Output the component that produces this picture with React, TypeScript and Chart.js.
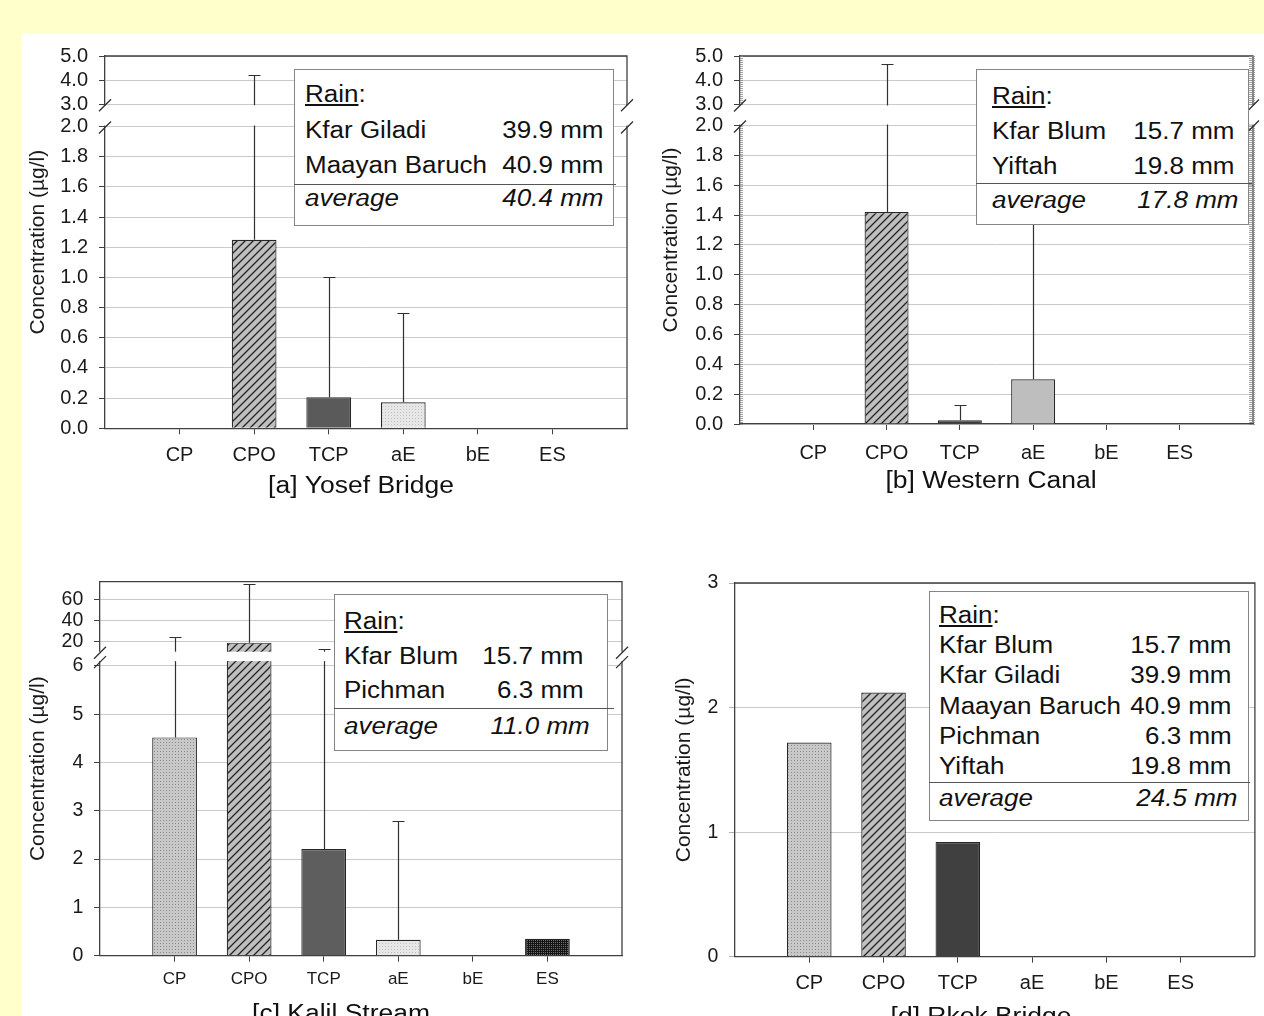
import React, { useEffect, useRef } from 'react';
import { Chart, registerables, LinearScale } from 'chart.js';

const FONT = "'Liberation Sans', Arial, Helvetica, sans-serif";

// ---------------- data ----------------
const CATEGORIES = ['CP', 'CPO', 'TCP', 'aE', 'bE', 'ES'];
const Y_TITLE = 'Concentration (µg/l)';
const TITLES = ['[a] Yosef Bridge', '[b] Western Canal', '[c] Kalil Stream', '[d] Rkok Bridge'];

const A_VALUES = [null, 1.25, 0.205, 0.172, null, null];
const A_ERRORS = [null, 2.96, 0.795, 0.592, null, null];
const A_TICKS = [0, 0.2, 0.4, 0.6, 0.8, 1.0, 1.2, 1.4, 1.6, 1.8, 2.0, 3.0, 4.0, 5.0];

const B_VALUES = [null, 1.42, 0.025, 0.3, null, null];
const B_ERRORS = [null, 3.25, 0.105, 1.2, null, null];
const B_TICKS = [0, 0.2, 0.4, 0.6, 0.8, 1.0, 1.2, 1.4, 1.6, 1.8, 2.0, 3.0, 4.0, 5.0];

const C_VALUES = [4.52, 19.0, 2.21, 0.33, null, 0.35];
const C_ERRORS = [20.3, 55.5, 10.5, 2.46, null, null];
const C_TICKS = [0, 1, 2, 3, 4, 5, 6, 20, 40, 60];

const D_VALUES = [1.72, 2.12, 0.92, null, null, null];
const D_TICKS = [0, 1, 2, 3];

const A_RAIN_STATIONS = ['Kfar Giladi', 'Maayan Baruch'];
const A_RAIN_MM = [39.9, 40.9];
const A_RAIN_AVG = 40.4;
const B_RAIN_STATIONS = ['Kfar Blum', 'Yiftah'];
const B_RAIN_MM = [15.7, 19.8];
const B_RAIN_AVG = 17.8;
const C_RAIN_STATIONS = ['Kfar Blum', 'Pichman'];
const C_RAIN_MM = [15.7, 6.3];
const C_RAIN_AVG = 11.0;
const D_RAIN_STATIONS = ['Kfar Blum', 'Kfar Giladi', 'Maayan Baruch', 'Pichman', 'Yiftah'];
const D_RAIN_MM = [15.7, 39.9, 40.9, 6.3, 19.8];
const D_RAIN_AVG = 24.5;

// ---------------- broken axis scale ----------------
function interp(x: number, xs: number[], ys: number[]) {
  const n = xs.length;
  let i = 0;
  if (x <= xs[0]) i = 0;
  else if (x >= xs[n - 1]) i = n - 2;
  else while (i < n - 2 && x > xs[i + 1]) i++;
  const t = (x - xs[i]) / (xs[i + 1] - xs[i]);
  return ys[i] + t * (ys[i + 1] - ys[i]);
}

class BrokenLinearScale extends LinearScale {
  static id = 'brokenLinear';
  static defaults = {};
  _kv: number[] = [];
  _kd: number[] = [];
  _initKnots() {
    const k: any = (this.options as any).knots || [0, 0, 1, 1];
    const kv: number[] = [];
    const kd: number[] = [];
    for (let i = 0; i + 1 < k.length; i += 2) {
      kv.push(+k[i]);
      kd.push(+k[i + 1]);
    }
    this._kv = kv;
    this._kd = kd;
  }
  configure() {
    super.configure();
    this._initKnots();
  }
  getPixelForValue(value: any) {
    if (value === null || value === undefined || Number.isNaN(+value)) return NaN;
    if (!this._kv || this._kv.length < 2) this._initKnots();
    return this.getPixelForDecimal(interp(+value, this._kv, this._kd));
  }
  getValueForPixel(pixel: number) {
    if (!this._kv || this._kv.length < 2) this._initKnots();
    return interp(this.getDecimalForPixel(pixel), this._kd, this._kv);
  }
}

Chart.register(...registerables, BrokenLinearScale as any);

// ---------------- fills ----------------
function tile(w: number, h: number, draw: (c: CanvasRenderingContext2D) => void) {
  const c = document.createElement('canvas');
  c.width = w;
  c.height = h;
  const x = c.getContext('2d') as CanvasRenderingContext2D;
  draw(x);
  return x.createPattern(c, 'repeat');
}
function makeFill(kind: string): any {
  if (kind === 'hatch')
    return tile(8, 8, (x) => {
      x.fillStyle = '#bfbfbf';
      x.fillRect(0, 0, 8, 8);
      x.strokeStyle = '#262626';
      x.lineWidth = 1.35;
      x.beginPath();
      x.moveTo(0, 8); x.lineTo(8, 0);
      x.moveTo(-1, 1); x.lineTo(1, -1);
      x.moveTo(7, 9); x.lineTo(9, 7);
      x.stroke();
    });
  if (kind === 'dots')
    return tile(3, 3, (x) => {
      x.fillStyle = '#c8c8c8';
      x.fillRect(0, 0, 3, 3);
      x.fillStyle = '#8c8c8c';
      x.fillRect(1, 1, 1, 1);
    });
  if (kind === 'lightdots')
    return tile(3, 3, (x) => {
      x.fillStyle = '#e6e6e6';
      x.fillRect(0, 0, 3, 3);
      x.fillStyle = '#c2c2c2';
      x.fillRect(1, 1, 1, 1);
    });
  if (kind === 'checker')
    return tile(2, 2, (x) => {
      x.fillStyle = '#151515';
      x.fillRect(0, 0, 2, 2);
      x.fillStyle = '#6e6e6e';
      x.fillRect(0, 0, 1, 1);
    });
  if (kind === 'none') return 'rgba(0,0,0,0)';
  return kind;
}

// ---------------- panel configs ----------------
const PANELS = [
  {
    key: 'a', canvas: { left: 21, top: 33, width: 619, height: 490 },
    area: { left: 105, top: 55, right: 627, bottom: 428.3 },
    yType: 'brokenLinear', knots: [0, 0, 2, 0.8106, 3, 0.8706, 5, 1], yMax: 5,
    band: { low: 2, high: 3, inset: 1 }, ticks: A_TICKS, decimals: 1,
    values: A_VALUES, errors: A_ERRORS,
    fills: ['none', 'hatch', '#5a5a5a', 'lightdots', 'none', 'none'],
    yTitleX: 37.8, xTickSize: 20, xTickCenter: 455, yTickPad: 11, yTickSize: 20, yTickColor: '#404040',
    title: TITLES[0], captionX: 361, captionBase: 493.3, ruler: false,
  },
  {
    key: 'b', canvas: { left: 640, top: 33, width: 624, height: 490 },
    area: { left: 740, top: 50, right: 1260, bottom: 424 },
    yType: 'brokenLinear', knots: [0, 0, 2, 0.811, 3, 0.8682, 5, 1], yMax: 5,
    band: { low: 2, high: 3, inset: 1 }, ticks: B_TICKS, decimals: 1,
    values: B_VALUES, errors: B_ERRORS,
    fills: ['none', 'hatch', '#3c3c3c', '#bebebe', 'none', 'none'],
    yTitleX: 671, xTickSize: 20, xTickCenter: 453, yTickPad: 11, yTickSize: 20, yTickColor: '#404040',
    title: TITLES[1], captionX: 991, captionBase: 488.3, ruler: true,
  },
  {
    key: 'c', canvas: { left: 21, top: 540, width: 619, height: 476 },
    area: { left: 100, top: 581.7, right: 622, bottom: 955.7 },
    yType: 'brokenLinear', knots: [0, 0, 6.1, 0.7877, 10.4, 0.8128, 77, 1], yMax: 77,
    band: { low: 6.1, high: 10.4, inset: 0 }, ticks: C_TICKS, decimals: 0,
    values: C_VALUES, errors: C_ERRORS,
    fills: ['dots', 'hatch', '#5e5e5e', 'lightdots', 'none', 'checker'],
    yTitleX: 37.8, xTickSize: 17, xTickCenter: 979, yTickPad: 10.7, yTickSize: 19.5, yTickColor: '#404040',
    title: TITLES[2], captionX: 341, captionBase: 1021, ruler: false,
  },
  {
    key: 'd', canvas: { left: 640, top: 540, width: 624, height: 476 },
    area: { left: 735, top: 583, right: 1256, bottom: 956.7 },
    yType: 'linear', knots: null, yMax: 3,
    band: null, ticks: D_TICKS, decimals: 0,
    values: D_VALUES, errors: null,
    fills: ['dots', 'hatch', '#404040', 'none', 'none', 'none'],
    yTitleX: 684, xTickSize: 20, xTickCenter: 983.8, yTickPad: 10.7, yTickSize: 19.5, yTickColor: '#b0b0b0',
    title: TITLES[3], captionX: 981, captionBase: 1024, ruler: false,
  },
];

const LEGENDS = [
  {
    key: 'a', stations: A_RAIN_STATIONS, mm: A_RAIN_MM, avg: A_RAIN_AVG,
    left: 294, top: 69.3, right: 614, bottom: 226, textLeft: 305,
    rainBase: 102.7, rowBase: 138.3, rowStep: 35, sepY: 184.3, sepRight: 616,
    avgBase: 206.7, valRight: 603, avgRight: 603,
  },
  {
    key: 'b', stations: B_RAIN_STATIONS, mm: B_RAIN_MM, avg: B_RAIN_AVG,
    left: 976, top: 69.3, right: 1249.3, bottom: 225, textLeft: 992.3,
    rainBase: 104.3, rowBase: 139, rowStep: 35.3, sepY: 183.3, sepRight: 1251.7,
    avgBase: 208.3, valRight: 1234, avgRight: 1238,
  },
  {
    key: 'c', stations: C_RAIN_STATIONS, mm: C_RAIN_MM, avg: C_RAIN_AVG,
    left: 334, top: 594.3, right: 608.3, bottom: 750.7, textLeft: 344,
    rainBase: 629, rowBase: 664, rowStep: 34.3, sepY: 708, sepRight: 614,
    avgBase: 734, valRight: 583.5, avgRight: 589.5,
  },
  {
    key: 'd', stations: D_RAIN_STATIONS, mm: D_RAIN_MM, avg: D_RAIN_AVG,
    left: 929.3, top: 590.7, right: 1249.3, bottom: 820.7, textLeft: 939.3,
    rainBase: 623.3, rowBase: 653.3, rowStep: 30.4, sepY: 782.3, sepRight: 1250,
    avgBase: 806, valRight: 1231.7, avgRight: 1237.3,
  },
];

// ---------------- chart panel ----------------
const Y_TITLE_SIZE = 21;
function Panel({ cfg }: { cfg: any }) {
  const ref = useRef<HTMLCanvasElement | null>(null);
  useEffect(() => {
    const canvas = ref.current;
    if (!canvas) return;
    const cv = cfg.canvas;
    const area = cfg.area;
    const padTop = area.top - cv.top;
    const padRight = cv.left + cv.width - area.right;
    const yWidth = area.left - cv.left;
    const xHeight = cv.top + cv.height - area.bottom;
    const xLine = cfg.xTickSize * 1.2;
    const xPad = cfg.xTickCenter - area.bottom - 6 - xLine / 2;
    const yTitlePad = cfg.yTitleX - cv.left - (Y_TITLE_SIZE * 1.2) / 2;
    const fills = cfg.fills.map(makeFill);
    const labels = ['', ...CATEGORIES, ''];
    const n = labels.length;

    const errorPlugin = {
      id: 'errbars' + cfg.key,
      afterDatasetsDraw(chart: any) {
        if (!cfg.errors) return;
        const meta = chart.getDatasetMeta(0);
        const y = chart.scales.y;
        const ctx = chart.ctx;
        ctx.save();
        ctx.strokeStyle = '#303030';
        ctx.lineWidth = 1.2;
        cfg.errors.forEach((e: any, i: number) => {
          const v = cfg.values[i];
          if (v == null || e == null) return;
          const bar = meta.data[i + 1];
          const x = Math.round(bar.x) + 0.5;
          const y0 = y.getPixelForValue(v);
          const y1 = Math.round(y.getPixelForValue(v + e)) + 0.5;
          ctx.beginPath();
          ctx.moveTo(x, y0);
          ctx.lineTo(x, y1);
          ctx.moveTo(x - 6, y1);
          ctx.lineTo(x + 6, y1);
          ctx.stroke();
        });
        ctx.restore();
      },
    };

    const framePlugin = {
      id: 'frame' + cfg.key,
      afterDraw(chart: any) {
        const ctx = chart.ctx;
        const ca = chart.chartArea;
        const y = chart.scales.y;
        ctx.save();
        ctx.strokeStyle = '#404040';
        ctx.lineWidth = 1.3;
        ctx.beginPath();
        ctx.moveTo(ca.left, ca.top);
        ctx.lineTo(ca.right, ca.top);
        ctx.lineTo(ca.right, ca.bottom);
        ctx.stroke();
        if (cfg.ruler) {
          ctx.strokeStyle = '#8a8a8a';
          ctx.lineWidth = 0.8;
          ctx.beginPath();
          for (let yy = ca.top; yy <= ca.bottom; yy += 2) {
            ctx.moveTo(ca.left, yy + 0.5);
            ctx.lineTo(ca.left + 3, yy + 0.5);
            ctx.moveTo(ca.right - 4, yy + 0.5);
            ctx.lineTo(ca.right + 2, yy + 0.5);
          }
          ctx.stroke();
        }
        if (cfg.band) {
          const pHigh = y.getPixelForValue(cfg.band.high);
          const pLow = y.getPixelForValue(cfg.band.low);
          ctx.fillStyle = '#ffffff';
          ctx.fillRect(ca.left - 3, pHigh + cfg.band.inset, ca.right - ca.left + 8, pLow - pHigh - 2 * cfg.band.inset);
          ctx.strokeStyle = '#303030';
          ctx.lineWidth = 1.3;
          ctx.beginPath();
          for (const py of [pHigh + 1, pLow + 1]) {
            for (const px of [ca.left, ca.right]) {
              ctx.moveTo(px - 6, py + 6);
              ctx.lineTo(px + 6, py - 6);
            }
          }
          ctx.stroke();
        }
        ctx.fillStyle = '#111111';
        ctx.font = `23px ${FONT}`;
        ctx.textAlign = 'center';
        ctx.textBaseline = 'alphabetic';
        ctx.translate(cfg.captionX - cv.left, cfg.captionBase - cv.top);
        ctx.scale(1.15, 1);
        ctx.fillText(cfg.title, 0, 0);
        ctx.restore();
      },
    };

    const yScale: any = {
      type: cfg.yType,
      min: 0,
      max: cfg.yMax,
      grid: {
        color: '#cacaca',
        lineWidth: 1,
        drawTicks: true,
        tickLength: 6,
        tickColor: cfg.yTickColor,
      },
      border: { display: true, color: '#404040', width: 1.3 },
      ticks: {
        autoSkip: false,
        padding: cfg.yTickPad,
        color: '#1a1a1a',
        font: { size: cfg.yTickSize, family: FONT },
        callback: (v: any) => (cfg.decimals ? Number(v).toFixed(cfg.decimals) : String(v)),
      },
      afterBuildTicks: (s: any) => {
        s.ticks = cfg.ticks.map((v: number) => ({ value: v }));
      },
      afterFit: (s: any) => {
        s.width = yWidth;
      },
      title: {
        display: true,
        text: Y_TITLE,
        color: '#1a1a1a',
        font: { size: Y_TITLE_SIZE, family: FONT },
        padding: { top: yTitlePad, bottom: 0 },
      },
    };
    if (cfg.knots) yScale.knots = cfg.knots;

    const chart = new Chart(canvas, {
      type: 'bar',
      data: {
        labels,
        datasets: [
          {
            data: [null, ...cfg.values, null],
            backgroundColor: ['rgba(0,0,0,0)', ...fills, 'rgba(0,0,0,0)'],
            borderColor: '#262626',
            borderWidth: 1.2,
            barPercentage: 1,
            categoryPercentage: 0.6,
          },
        ],
      },
      options: {
        responsive: false,
        animation: false,
        devicePixelRatio: 1,
        layout: { padding: { top: padTop, right: padRight, left: 0, bottom: 0 } },
        plugins: { legend: { display: false }, tooltip: { enabled: false }, title: { display: false } },
        scales: {
          x: {
            type: 'category',
            offset: false,
            grid: {
              offset: false,
              drawOnChartArea: false,
              drawTicks: true,
              tickLength: 6,
              tickColor: (c: any) => (c.index === 0 || c.index === n - 1 ? 'rgba(0,0,0,0)' : '#404040'),
            },
            border: { display: true, color: '#404040', width: 1.3 },
            ticks: {
              autoSkip: false,
              maxRotation: 0,
              padding: xPad,
              color: '#1a1a1a',
              font: { size: cfg.xTickSize, family: FONT },
            },
            afterFit: (s: any) => {
              s.height = xHeight;
            },
          },
          y: yScale,
        },
      } as any,
      plugins: [errorPlugin, framePlugin],
    });
    return () => chart.destroy();
  }, []);
  return (
    <canvas
      ref={ref}
      width={cfg.canvas.width}
      height={cfg.canvas.height}
      style={{
        position: 'absolute',
        left: cfg.canvas.left,
        top: cfg.canvas.top,
        width: cfg.canvas.width,
        height: cfg.canvas.height,
      }}
    />
  );
}

// ---------------- rain legend boxes ----------------
const LF = 23;
const LSX = 1.13;
function TextAt({ x, right, base, italic, children }: any) {
  const style: any = {
    position: 'absolute',
    top: base - 0.8465 * LF,
    fontSize: LF,
    lineHeight: `${LF}px`,
    fontFamily: FONT,
    fontStyle: italic ? 'italic' : 'normal',
    color: '#111',
    whiteSpace: 'nowrap',
    transform: `scaleX(${LSX})`,
    transformOrigin: right != null ? 'right center' : 'left center',
  };
  if (right != null) style.right = 1264 - right;
  else style.left = x;
  return <div style={style}>{children}</div>;
}

function RainBox({ cfg }: { cfg: any }) {
  return (
    <>
      <div
        style={{
          position: 'absolute',
          left: cfg.left,
          top: cfg.top,
          width: cfg.right - cfg.left,
          height: cfg.bottom - cfg.top,
          border: '1px solid #858585',
          background: '#fff',
          boxSizing: 'border-box',
        }}
      />
      <TextAt x={cfg.textLeft} base={cfg.rainBase}>
        <span style={{ textDecoration: 'underline' }}>Rain</span>:
      </TextAt>
      {cfg.stations.map((s: string, i: number) => (
        <React.Fragment key={s}>
          <TextAt x={cfg.textLeft} base={cfg.rowBase + cfg.rowStep * i}>
            {s}
          </TextAt>
          <TextAt right={cfg.valRight} base={cfg.rowBase + cfg.rowStep * i}>
            {`${cfg.mm[i].toFixed(1)} mm`}
          </TextAt>
        </React.Fragment>
      ))}
      <div
        style={{
          position: 'absolute',
          left: cfg.left,
          top: cfg.sepY - 0.5,
          width: cfg.sepRight - cfg.left,
          height: 1,
          background: '#555',
        }}
      />
      <TextAt x={cfg.textLeft} base={cfg.avgBase} italic>
        average
      </TextAt>
      <TextAt right={cfg.avgRight} base={cfg.avgBase} italic>
        {`${cfg.avg.toFixed(1)} mm`}
      </TextAt>
    </>
  );
}

export default function App() {
  return (
    <div
      style={{
        position: 'absolute',
        left: 0,
        top: 0,
        width: 1264,
        height: 1016,
        background: '#FFFFCC',
        overflow: 'hidden',
        fontFamily: FONT,
      }}
    >
      <div style={{ position: 'absolute', left: 21, top: 33, width: 1243, height: 983, background: '#ffffff' }} />
      {PANELS.map((p) => (
        <Panel key={p.key} cfg={p} />
      ))}
      {LEGENDS.map((l) => (
        <RainBox key={l.key} cfg={l} />
      ))}
    </div>
  );
}
